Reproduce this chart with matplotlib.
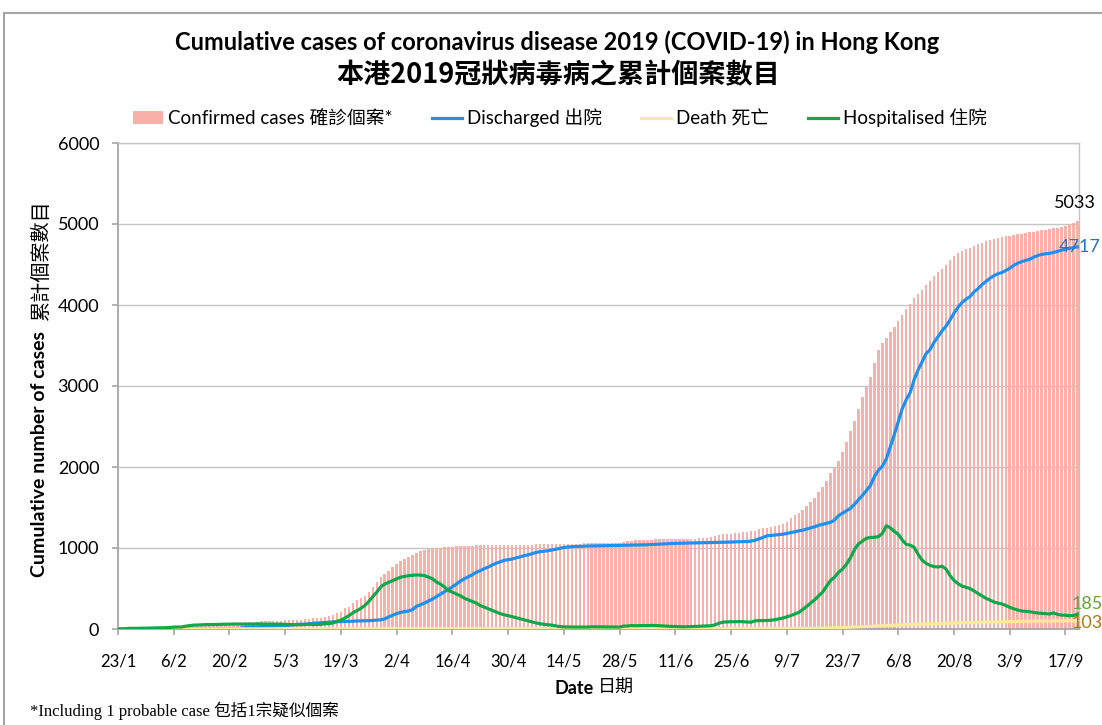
import matplotlib.pyplot as plt
from matplotlib.patches import Patch, Rectangle
from matplotlib.lines import Line2D
import numpy as np

plt.rcParams['font.family'] = ['Lato', 'Noto Sans CJK TC']

# daily values, 23/1/2020 .. 20/9/2020
confirmed = [
    2, 2, 5, 8, 8, 8, 10, 10, 12,  # Jan 23-31
    13, 14, 15, 17, 21, 24, 26, 26, 36, 42, 49, 50, 53, 56, 56, 57, 60, 62, 65, 68,
    69, 70, 74, 81, 84, 85, 92, 94, 95,  # Feb
    100, 100, 101, 104, 105, 107, 108, 114, 115, 120, 126, 130, 134, 140, 149, 157,
    167, 192, 208, 256, 273, 317, 356, 386, 410, 453, 518, 582, 641, 682, 714,  # Mar
    765, 802, 845, 862, 890, 914, 935, 960, 973, 989, 990, 1000, 1005, 1010, 1012,
    1017, 1019, 1025, 1026, 1029, 1030, 1034, 1035, 1036, 1036, 1037, 1037, 1037, 1037, 1038,  # Apr
    1039, 1040, 1040, 1041, 1041, 1041, 1044, 1044, 1045, 1045, 1045, 1047, 1047, 1051, 1052,
    1053, 1055, 1055, 1056, 1059, 1063, 1064, 1064, 1065, 1065, 1066, 1066, 1067, 1080, 1082, 1088,  # May
    1094, 1095, 1097, 1100, 1104, 1105, 1107, 1108, 1108, 1108, 1109, 1110, 1111, 1113, 1117,
    1117, 1120, 1124, 1128, 1133, 1144, 1161, 1174, 1176, 1179, 1184, 1189, 1197, 1199, 1205,  # Jun
    1206, 1238, 1242, 1250, 1258, 1268, 1282, 1300, 1324, 1366, 1404, 1434, 1469, 1522, 1570,
    1620, 1690, 1750, 1830, 1920, 1990, 2080, 2190, 2310, 2440, 2570, 2710, 2870, 3000, 3110, 3290,  # Jul
    3450, 3528, 3597, 3664, 3733, 3806, 3879, 3951, 4017, 4082, 4139, 4185, 4243, 4298, 4352,
    4404, 4446, 4492, 4555, 4601, 4638, 4667, 4691, 4708, 4733, 4752, 4769, 4788, 4803, 4816, 4831,  # Aug
    4841, 4848, 4857, 4868, 4876, 4880, 4889, 4899, 4905, 4915, 4924, 4929, 4938, 4947, 4955,
    4964, 4978, 4992, 5011, 5033,  # Sep 1-20
]

discharged = [
    0, 0, 0, 0, 0, 0, 0, 0, 0,
    0, 0, 0, 0, 0, 0, 0, 0, 0, 0, 0, 0, 1, 1, 1, 1, 2, 2, 3, 5,
    6, 6, 11, 19, 21, 24, 24, 30, 33,
    36, 36, 37, 40, 43, 46, 50, 58, 59, 60, 64, 71, 74, 77, 80, 84,
    88, 90, 92, 93, 95, 96, 99, 100, 101, 103, 105, 110, 114, 125, 150,
    170, 190, 205, 215, 222, 240, 280, 300, 320, 345, 370, 400, 430, 460, 490,
    520, 555, 590, 620, 645, 670, 700, 720, 745, 765, 790, 812, 830, 848, 855,
    864, 878, 890, 905, 915, 930, 945, 954, 960, 966, 975, 985, 995, 1007, 1012,
    1016, 1019, 1020, 1022, 1025, 1025, 1026, 1027, 1029, 1030, 1030, 1031, 1033, 1034, 1035, 1035,
    1036, 1037, 1038, 1040, 1043, 1045, 1047, 1050, 1053, 1055, 1057, 1058, 1060, 1061, 1062,
    1063, 1064, 1065, 1066, 1068, 1069, 1070, 1071, 1072, 1074, 1076, 1077, 1078, 1080, 1085,
    1095, 1112, 1130, 1150, 1155, 1160, 1164, 1170, 1180, 1190, 1200, 1212, 1220, 1235, 1248,
    1262, 1280, 1292, 1305, 1318, 1345, 1400, 1430, 1460, 1490, 1540, 1595, 1650, 1710, 1770, 1880,
    1960, 2010, 2100, 2250, 2400, 2560, 2720, 2830, 2920, 3080, 3200, 3300, 3400, 3450, 3540,
    3610, 3680, 3740, 3815, 3900, 3970, 4030, 4070, 4103, 4160, 4200, 4250, 4290, 4329, 4360, 4385,
    4400, 4425, 4453, 4490, 4515, 4535, 4550, 4564, 4590, 4610, 4625, 4632, 4638, 4648, 4662,
    4676, 4688, 4700, 4708, 4717,
]

death = [
    0, 0, 0, 0, 0, 0, 0, 0, 0,
    0, 0, 0, 1, 1, 1, 1, 1, 1, 1, 1, 1, 1, 1, 1, 1, 1, 1, 2, 2,
    2, 2, 2, 2, 2, 2, 2, 2, 2,
    2, 2, 2, 2, 2, 2, 2, 2, 2, 2, 2, 2, 3, 3, 3, 3,
    3, 3, 3, 3, 3, 3, 3, 3, 4, 4, 4, 4, 4, 4, 4,
    4, 4, 4, 4, 4, 4, 4, 4, 4, 4, 4, 4, 4, 4, 4,
    4, 4, 4, 4, 4, 4, 4, 4, 4, 4, 4, 4, 4, 4, 4,
    4, 4, 4, 4, 4, 4, 4, 4, 4, 4, 4, 4, 4, 4, 4,
    4, 4, 4, 4, 4, 4, 4, 4, 4, 4, 4, 4, 4, 4, 4, 4,
    4, 4, 4, 4, 4, 4, 4, 4, 4, 4, 4, 4, 4, 4, 4,
    4, 4, 4, 4, 4, 5, 5, 5, 5, 5, 7, 7, 7, 7, 7,
    7, 7, 7, 7, 7, 7, 7, 8, 8, 8, 8, 8, 8, 8, 8,
    8, 8, 10, 11, 12, 14, 15, 18, 20, 22, 24, 25, 27, 30, 33, 35,
    38, 40, 42, 44, 46, 50, 52, 54, 56, 58, 60, 62, 64, 66, 66,
    68, 70, 72, 73, 74, 76, 78, 80, 80, 81, 83, 84, 86, 87, 88, 89,
    90, 91, 91, 92, 93, 94, 94, 95, 96, 97, 98, 99, 99, 100, 100,
    100, 101, 102, 102, 103,
]

hospitalised = [
    2, 2, 5, 8, 8, 8, 10, 10, 12,
    13, 14, 15, 16, 20, 23, 25, 25, 35, 41, 48, 49, 52, 54, 54, 55, 57, 58, 59, 60,
    61, 62, 61, 60, 61, 59, 64, 62, 60,
    60, 60, 60, 60, 58, 57, 54, 52, 52, 56, 58, 55, 56, 59, 65, 66,
    75, 95, 110, 135, 165, 200, 225, 255, 290, 340, 400, 455, 520, 555, 576,
    598, 617, 640, 650, 658, 662, 667, 665, 660, 640, 620, 580, 555, 520, 475,
    455, 432, 410, 380, 360, 340, 320, 290, 270, 250, 230, 210, 190, 175, 165,
    152, 138, 125, 112, 100, 88, 75, 65, 58, 52, 48, 38, 30, 26, 25,
    24, 24, 24, 23, 24, 27, 27, 26, 26, 25, 25, 25, 24, 35, 37, 42,
    40, 42, 43, 42, 44, 43, 40, 37, 35, 32, 30, 28, 27, 28, 30,
    32, 35, 36, 38, 40, 52, 72, 85, 88, 90, 90, 92, 90, 86, 84,
    100, 104, 103, 105, 108, 115, 125, 135, 150, 165, 185, 205, 240, 280, 320,
    360, 410, 455, 530, 600, 640, 700, 740, 800, 880, 980, 1050, 1085, 1120, 1130, 1132,
    1140, 1180, 1275, 1250, 1205, 1170, 1100, 1045, 1035, 1010, 920, 850, 810, 785, 770,
    765, 775, 740, 660, 600, 560, 530, 515, 500, 470, 440, 410, 380, 358, 335, 320,
    310, 290, 268, 250, 235, 222, 218, 214, 205, 198, 193, 190, 185, 200, 180,
    172, 170, 164, 166, 185,
]

tick_labels = ['23/1', '6/2', '20/2', '5/3', '19/3', '2/4', '16/4', '30/4', '14/5',
               '28/5', '11/6', '25/6', '9/7', '23/7', '6/8', '20/8', '3/9', '17/9']

series_names = ['Confirmed cases 確診個案*', 'Discharged 出院', 'Death 死亡', 'Hospitalised 住院']

bar_col = '#F8B0A8'
blue = '#1E90F0'
yellow = '#FCE9A0'
green = '#10A84A'

days = np.arange(len(confirmed))

fig = plt.figure(figsize=(11.02, 7.25), dpi=100)
W, H = 1102, 725
ax = fig.add_axes([118 / W, 1 - 629 / H, (1079 - 118) / W, (629 - 143) / H])

ax.bar(days, confirmed, width=0.62, color=bar_col, zorder=2)
ax.plot(days, discharged, color=blue, lw=2.3, zorder=3)
ax.plot(days, death, color=yellow, lw=2.3, zorder=3)
ax.plot(days, hospitalised, color=green, lw=2.3, zorder=4)

ax.set_xlim(0, len(days) - 0.6)
ax.set_ylim(0, 6000)
ax.set_yticks(np.arange(0, 6001, 1000))
ax.set_xticks(np.arange(0, len(days), 14)[:len(tick_labels)])
ax.set_xticklabels(tick_labels)
ax.yaxis.grid(True, color='#C4C4C4', lw=1)
ax.set_axisbelow(True)
for s in ['left', 'bottom']:
    ax.spines[s].set_color('#A6A6A6')
    ax.spines[s].set_linewidth(1.3)
for s in ['top', 'right']:
    ax.spines[s].set_color('#C4C4C4')
    ax.spines[s].set_linewidth(1)
ax.tick_params(axis='y', length=4.5, width=1.2, color='#A6A6A6', labelsize=13, pad=9)
ax.tick_params(axis='x', length=4.5, width=1.2, color='#A6A6A6', labelsize=12, pad=13)

# end-of-series labels
last = days[-1]
ax.annotate(str(confirmed[-1]), (last, confirmed[-1]), xytext=(-2, 10), textcoords='offset pixels',
            ha='center', va='bottom', fontsize=13, color='black', annotation_clip=False)
ax.annotate(str(discharged[-1]), (last, discharged[-1]), xytext=(-19, 0), textcoords='offset pixels',
            ha='left', va='center', fontsize=13, color='#2E75B6', annotation_clip=False)
ax.annotate(str(hospitalised[-1]), (last, hospitalised[-1]), xytext=(-6, 10), textcoords='offset pixels',
            ha='left', va='center', fontsize=13, color='#6A9F3A', annotation_clip=False)
ax.annotate(str(death[-1]), (last, death[-1]), xytext=(-6, -2), textcoords='offset pixels',
            ha='left', va='center', fontsize=13, color='#B07A10', annotation_clip=False)

# titles
fig.text(557 / W, 1 - 42 / H, 'Cumulative cases of coronavirus disease 2019 (COVID-19) in Hong Kong',
         ha='center', va='center', fontsize=17, weight='bold')
fig.text(558 / W, 1 - 75 / H, '本港2019冠狀病毒病之累計個案數目',
         ha='center', va='center', fontsize=19.5, weight='bold', family='Noto Sans CJK TC')

# legend
handles = [Patch(facecolor=bar_col),
           Line2D([], [], color=blue, lw=2.3),
           Line2D([], [], color=yellow, lw=2.3),
           Line2D([], [], color=green, lw=2.3)]
fig.legend(handles, series_names, loc='center', bbox_to_anchor=(560 / W, 1 - 118 / H), ncol=4,
           frameon=False, fontsize=13.5, handlelength=1.6, handletextpad=0.25, columnspacing=2.1)

# axis titles
fig.text(40 / W, 1 - 454 / H, 'Cumulative number of cases', rotation=90, ha='center', va='center',
         fontsize=14, weight='bold')
fig.text(40 / W, 1 - 260 / H, '累計個案數目', rotation=90, ha='center', va='center', fontsize=14.5)
fig.text(594 / W, 1 - 688 / H, 'Date', ha='right', va='center', fontsize=13, weight='bold')
fig.text(598 / W, 1 - 688 / H, '日期', ha='left', va='center', fontsize=13)

fig.text(30 / W, 1 - 711 / H, '*Including 1 probable case 包括1宗疑似個案', ha='left', va='center',
         fontsize=12, family=['Liberation Serif', 'Noto Sans CJK TC'])

fig.add_artist(Rectangle((4 / W, -0.05), 1.2, 1.05 - 13 / H, transform=fig.transFigure,
                         fill=False, edgecolor='#A6A6A6', lw=1.5))

fig.savefig('out.png', dpi=100)
